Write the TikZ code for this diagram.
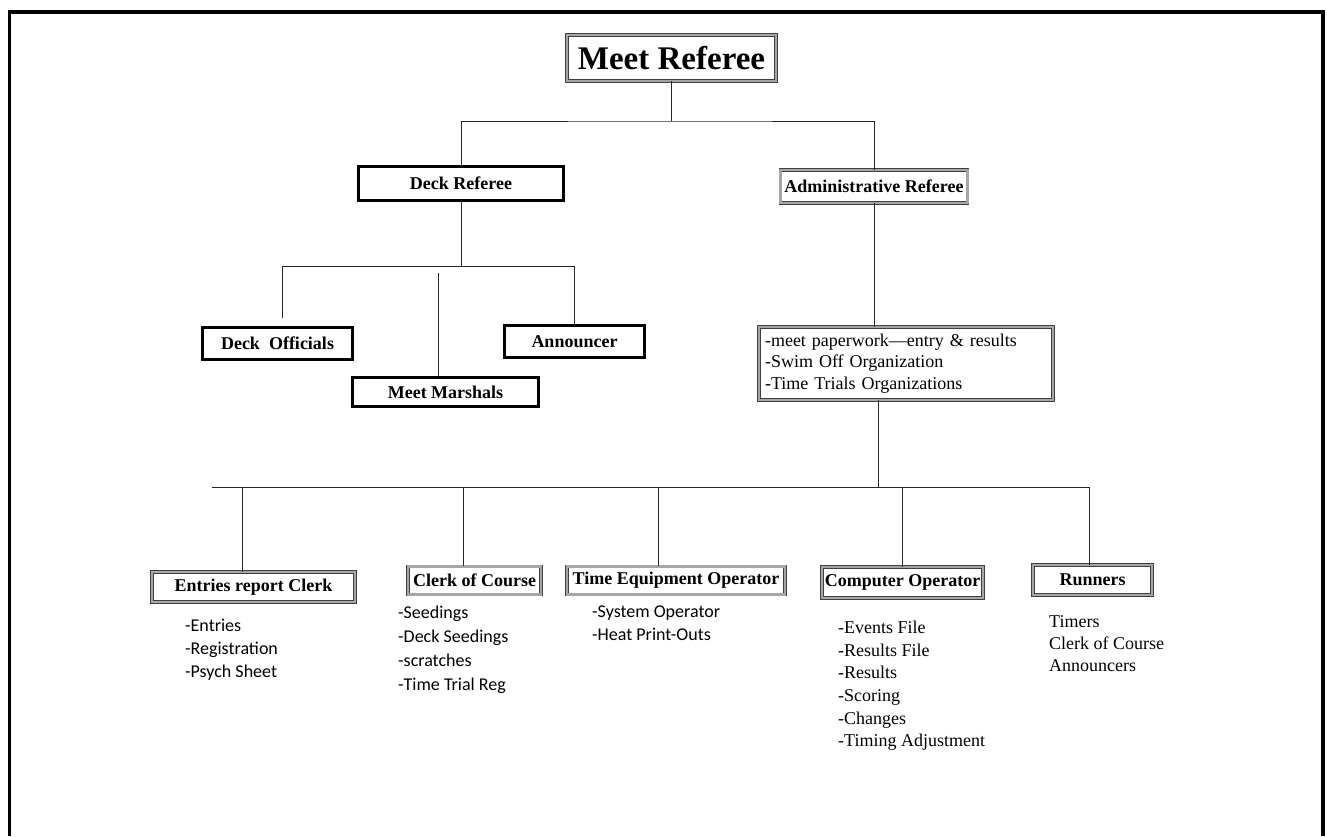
\documentclass[tikz,border=0pt]{standalone}
\usepackage{fontspec}
\setmainfont{Liberation Serif}
\newfontfamily\sansf{Carlito}
\begin{document}
\begin{tikzpicture}[x=1pt,y=-1pt,
  graybox/.style={draw=black!75, double=black!35, double distance=2.4pt, line width=0.7pt, inner sep=0pt, font=\bfseries\fontsize{18}{20}\selectfont},
  blackbox/.style={draw=black, line width=3pt, inner sep=0pt, font=\bfseries\fontsize{18}{20}\selectfont},
  conn/.style={draw=black!85, line width=1pt},
  listsans/.style={anchor=north west, inner sep=0pt, align=left, font=\sansf\fontsize{18}{24}\selectfont},
  listserif/.style={anchor=north west, inner sep=0pt, align=left, font=\fontsize{18}{22.6}\selectfont}]
\useasboundingbox (0,0) rectangle (1327,836);
% frame
\draw[line width=3.5pt] (9.5,836) -- (9.5,12) -- (1323,12) -- (1323,836);

% top
\node[graybox, minimum width=209, minimum height=46, font=\bfseries\fontsize{33}{35}\selectfont] (meet) at (671.5,58) {Meet Referee};
\node[blackbox, minimum width=205, minimum height=34] (deck) at (461,183.5) {Deck Referee};
\node[graybox, minimum width=187, minimum height=33] (admin) at (874,186.5) {Administrative Referee};

% deck children
\node[blackbox, minimum width=150, minimum height=32] (offic) at (277.5,343.5) {Deck\ \ Officials};
\node[blackbox, minimum width=186, minimum height=29] (marsh) at (445.5,392) {Meet Marshals};
\node[blackbox, minimum width=140, minimum height=32] (annc) at (574.5,341.5) {Announcer};

% paperwork
\node[graybox, minimum width=294, minimum height=73, text width=282, align=left, font=\fontsize{18}{21.5}\selectfont] (paper) at (906,363.5) {-meet paperwork---entry \& results\\-Swim Off Organization\\-Time Trials Organizations};

% bottom boxes
\node[graybox, minimum width=203, minimum height=30] (entries) at (253.5,587) {Entries report Clerk};
\node[graybox, minimum width=133, minimum height=28] (clerk) at (474.5,580.5) {Clerk of Course};
\node[graybox, minimum width=218, minimum height=28] (timeeq) at (676,580.5) {Time Equipment Operator};
\node[graybox, minimum width=161, minimum height=31] (comp) at (902.5,582.5) {Computer Operator};
\node[graybox, minimum width=119, minimum height=30] (runners) at (1092.5,580) {Runners};

% lists
\node[listsans, font=\sansf\fontsize{18}{23}\selectfont] (lentries) at (185,619) {-Entries\\-Registration\\-Psych Sheet};
\node[listsans] (lclerk) at (398,606) {-Seedings\\-Deck Seedings\\-scratches\\-Time Trial Reg};
\node[listsans, font=\sansf\fontsize{18}{23}\selectfont] (ltimeeq) at (592,606) {-System Operator\\-Heat Print-Outs};
\node[listserif] (lcomp) at (838,621) {-Events File\\-Results File\\-Results\\-Scoring\\-Changes\\-Timing Adjustment};
\node[listserif, font=\fontsize{18}{22}\selectfont] (lrun) at (1049,615) {Timers\\Clerk of Course\\Announcers};

% connectors top
\coordinate (t1) at (671.5,121);
\draw[conn] (meet.south) -- (t1);
\draw[conn] (deck.north) |- (t1) -| (admin.north);

% deck children connectors
\coordinate (t2) at (461,266);
\coordinate (dl) at (282,266);
\coordinate (dr) at (574.5,266);
\coordinate (dm) at (438,273);
\coordinate (doe) at (282,318);
\draw[conn] (deck.south) -- (t2);
\draw[conn] (doe) -- (dl) -- (dr) -- (annc.north);
\draw[conn] (dm) -- (dm |- marsh.north);

% admin to paper
\draw[conn] (admin.south) -- (admin.south |- paper.north);

% bottom connectors
\coordinate (t3) at (878,487);
\coordinate (hl) at (212,487);
\coordinate (hr) at (1089,487);
\draw[conn] (paper.south -| t3) -- (t3);
\draw[conn] (hl) -- (hr);
\coordinate (b1) at (242,487);
\coordinate (b2) at (463,487);
\coordinate (b3) at (658,487);
\coordinate (b4) at (902,487);
\draw[conn] (b1) -- (b1 |- entries.north);
\draw[conn] (b2) -- (b2 |- clerk.north);
\draw[conn] (b3) -- (b3 |- timeeq.north);
\draw[conn] (b4) -- (b4 |- comp.north);
\draw[conn] (hr) -- (hr |- runners.north);
\end{tikzpicture}
\end{document}
